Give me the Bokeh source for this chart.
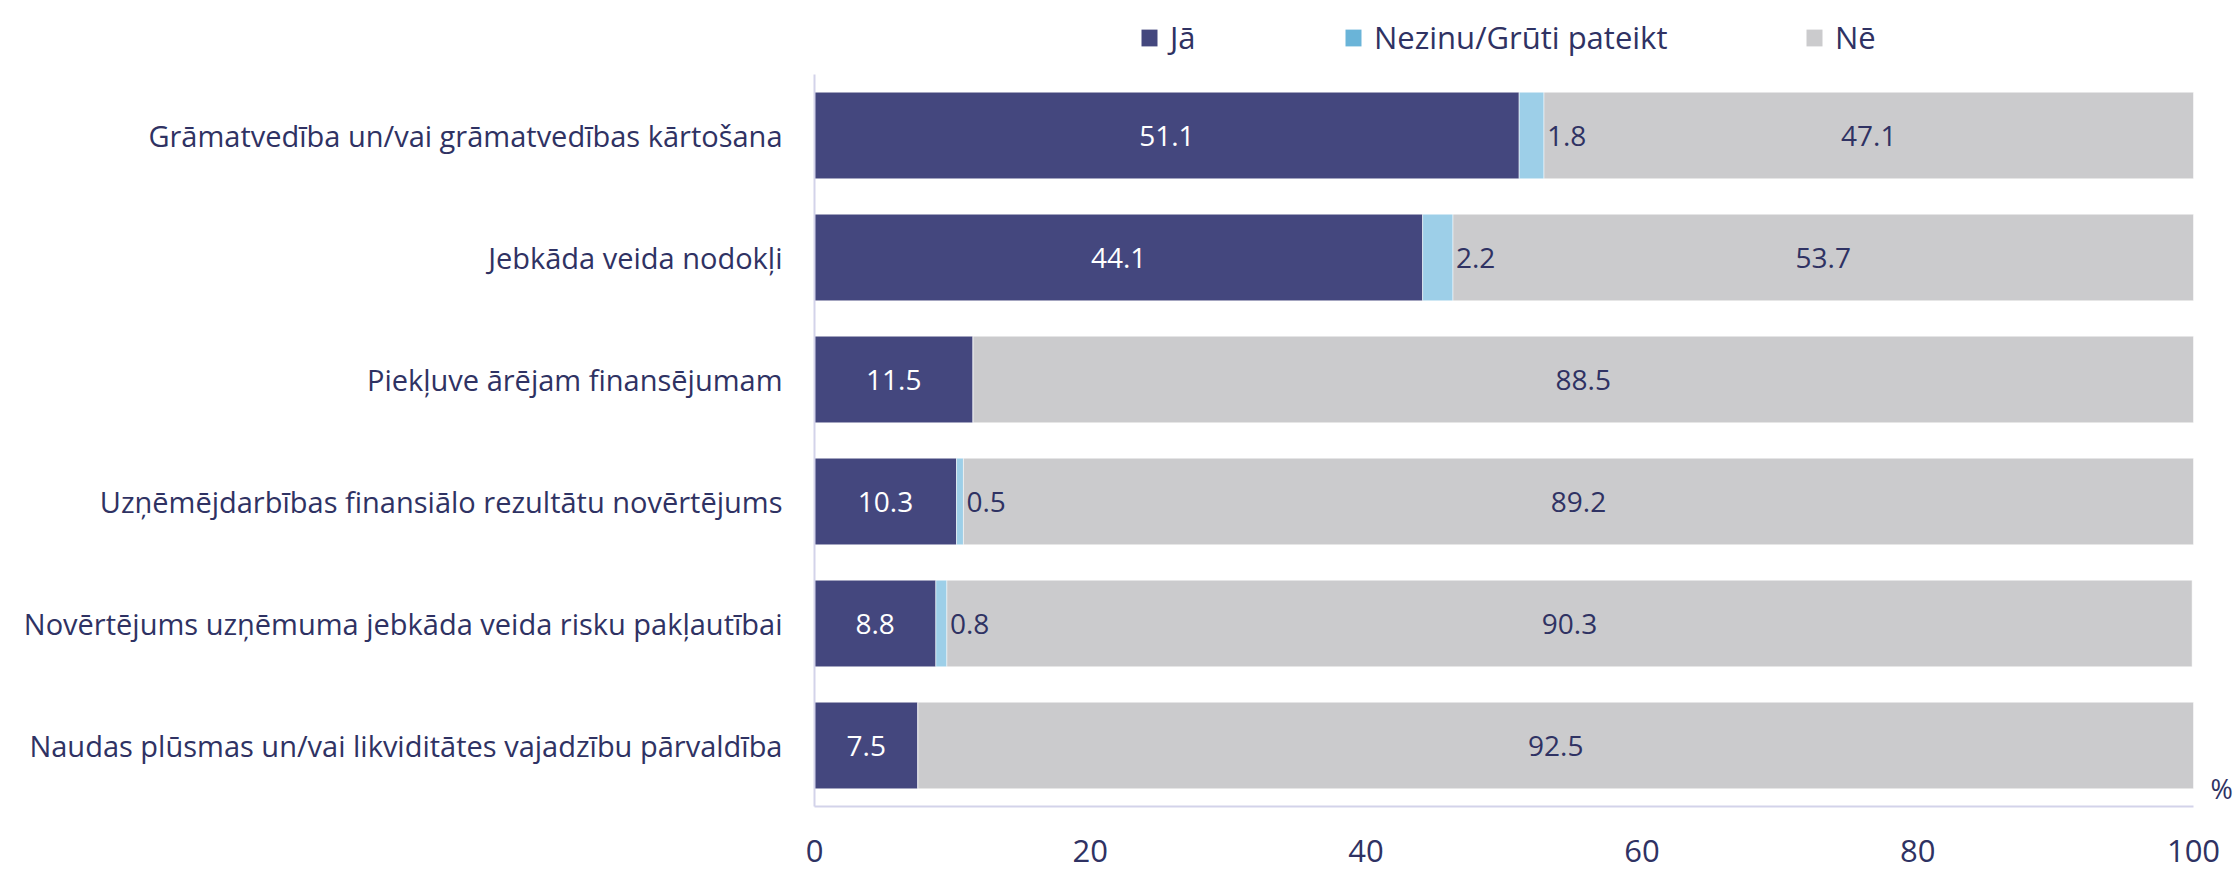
from bokeh.plotting import figure
from bokeh.models import ColumnDataSource, FactorRange, Legend, LegendItem, Label, LabelSet
from bokeh.layouts import column
from bokeh.embed import file_html
from bokeh.resources import INLINE
from bokeh.core.properties import value

categories = [
    "Grāmatvedība un/vai grāmatvedības kārtošana",
    "Jebkāda veida nodokļi",
    "Piekļuve ārējam finansējumam",
    "Uzņēmējdarbības finansiālo rezultātu novērtējums",
    "Novērtējums uzņēmuma jebkāda veida risku pakļautībai",
    "Naudas plūsmas un/vai likviditātes vajadzību pārvaldība",
]
ja = [51.1, 44.1, 11.5, 10.3, 8.8, 7.5]
nezinu = [1.8, 2.2, 0.0, 0.5, 0.8, 0.0]
ne = [47.1, 53.7, 88.5, 89.2, 90.3, 92.5]
series_names = ["Jā", "Nezinu/Grūti pateikt", "Nē"]
x_ticks = [0, 20, 40, 60, 80, 100]
unit_label = "%"

FONT = "Open Sans"
TXT = "#2f3263"
C_JA = "#44477e"
C_NEZ = "#9dcfe8"
C_NEZ_LEG = "#6ab4d8"
C_NE = "#cbcbcd"

nez_end = [a + b for a, b in zip(ja, nezinu)]
ne_end = [a + b + c for a, b, c in zip(ja, nezinu, ne)]

src = ColumnDataSource(dict(
    cat=categories, zero=[0] * len(ja), ja_end=ja, nez_end=nez_end, ne_end=ne_end,
    ja_mid=[a / 2 for a in ja],
    ne_mid=[(s + e) / 2 for s, e in zip(nez_end, ne_end)],
    ja_lbl=[f"{v:.1f}" for v in ja],
    ne_lbl=[f"{v:.1f}" for v in ne],
))
nz_idx = [i for i, v in enumerate(nezinu) if v > 0]
nz_src = ColumnDataSource(dict(
    cat=[categories[i] for i in nz_idx],
    x=[nez_end[i] for i in nz_idx],
    lbl=[f"{nezinu[i]:.1f}" for i in nz_idx],
))

W, HTOT = 2239, 869
TOP = 74
FL, FH = 814, 732
AXIS_PX = 1379            # pixel length of the 0..100 axis
FW = W - FL               # frame runs to the right edge so the "%" mark fits inside it
X_END = 100 * FW / AXIS_PX
H_MAIN = HTOT - TOP

# ---- legend strip on top (its frame lines up with the chart frame) ----
leg_fig = figure(width=W, height=TOP, x_range=(0, 1), y_range=(0, 1),
                 output_backend="svg", toolbar_location=None,
                 x_axis_location=None, y_axis_location=None,
                 min_border_left=FL, min_border_right=0,
                 min_border_top=0, min_border_bottom=0)
leg_fig.outline_line_color = None
leg_fig.grid.visible = False
lg = [leg_fig.hbar(y="zero", left="zero", right="zero", height=0, source=src,
                   fill_color=c, line_color=None) for c in (C_JA, C_NEZ_LEG, C_NE)]
leg_x = [325, 529, 990]
for name, r, lx in zip(series_names, lg, leg_x):
    legend = Legend(items=[LegendItem(label=name, renderers=[r])],
                    orientation="horizontal", location=(lx, 16),
                    label_text_font=FONT, label_text_font_size="31px", label_text_color=TXT,
                    glyph_width=20, glyph_height=21, label_standoff=11, spacing=0,
                    border_line_color=None, background_fill_alpha=0, margin=0, padding=4)
    leg_fig.add_layout(legend, "center")

# ---- main chart ----
p = figure(
    y_range=FactorRange(factors=list(reversed(categories)), range_padding=0),
    x_range=(0, X_END),
    width=W, height=H_MAIN,
    output_backend="svg", toolbar_location=None,
    min_border_left=FL, min_border_right=0,
    min_border_top=0, min_border_bottom=H_MAIN - FH,
)
p.outline_line_color = None
p.grid.visible = False

BH = 0.71
common = dict(height=BH, source=src, line_color="white", line_alpha=0.5, line_width=1)
p.hbar(y="cat", left="zero", right="ja_end", fill_color=C_JA, **common)
p.hbar(y="cat", left="ja_end", right="nez_end", fill_color=C_NEZ, **common)
p.hbar(y="cat", left="nez_end", right="ne_end", fill_color=C_NE, **common)

lbl_style = dict(text_font=value(FONT), text_font_size="28px", text_baseline="middle")
p.add_layout(LabelSet(x="ja_mid", y="cat", text="ja_lbl", source=src, text_align="center",
                      text_color="white", **lbl_style))
p.add_layout(LabelSet(x="x", y="cat", text="lbl", source=nz_src, text_align="left", x_offset=3,
                      text_color=TXT, **lbl_style))
p.add_layout(LabelSet(x="ne_mid", y="cat", text="ne_lbl", source=src, text_align="center",
                      text_color=TXT, **lbl_style))

# unit mark just past the end of the axis
p.add_layout(Label(x=x_ticks[-1], y=0, x_offset=17, text=unit_label, text_font=FONT,
                   text_font_size="27px", text_color=TXT, text_baseline="bottom",
                   text_align="left"))

for a in (p.xaxis[0], p.yaxis[0]):
    a.axis_line_color = "#d3d3ea"
    a.axis_line_width = 2
    a.major_tick_line_color = None
    a.minor_tick_line_color = None
    a.major_tick_out = 0
    a.major_tick_in = 0
    a.major_label_text_font = FONT
    a.major_label_text_color = TXT

p.xaxis.ticker = x_ticks
p.xaxis.bounds = (x_ticks[0], x_ticks[-1])
p.xaxis.major_label_standoff = 33
p.xaxis.major_label_text_font_size = "31px"
p.yaxis.major_label_standoff = 32
p.yaxis.major_label_text_font_size = "29px"

open("out.html", "w").write(file_html(column(leg_fig, p, spacing=0), INLINE))
